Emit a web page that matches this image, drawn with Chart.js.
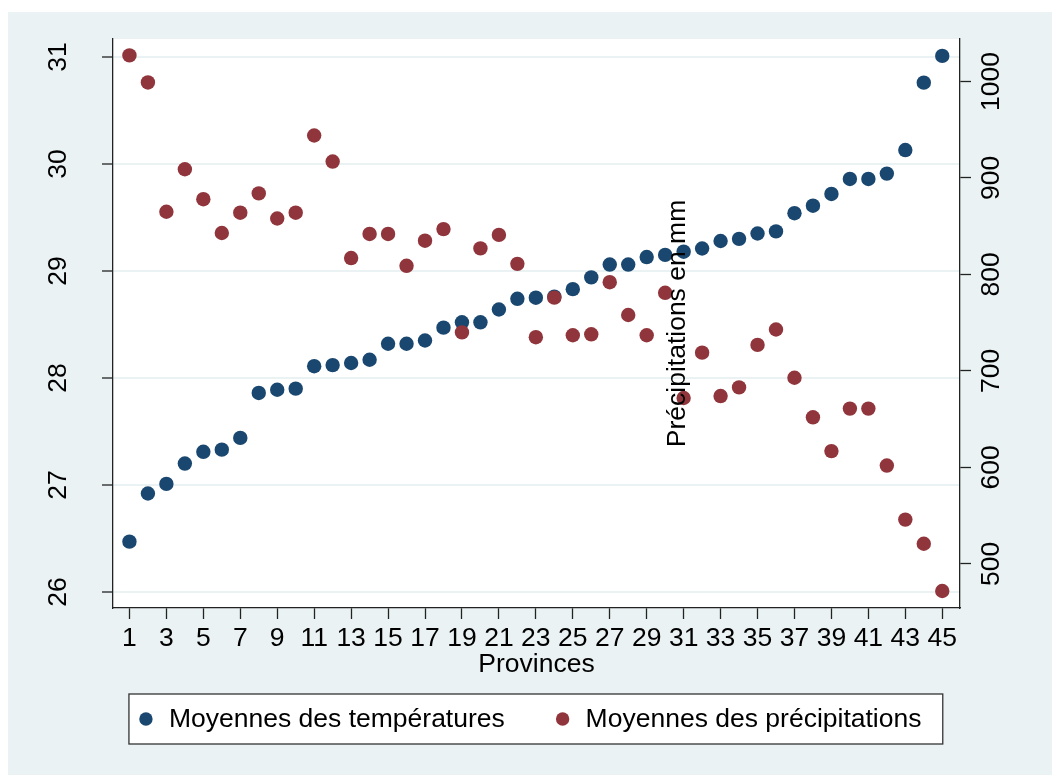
<!DOCTYPE html>
<html>
<head>
<meta charset="utf-8">
<title>Températures et précipitations par province</title>
<script src="https://cdn.jsdelivr.net/npm/chart.js@4/dist/chart.umd.min.js"></script>
<style>
  html, body { margin: 0; padding: 0; background: #fff; }
  canvas { display: block; }
</style>
</head>
<body>
<canvas id="main-canvas" width="1052" height="775"></canvas>
<script>
// values
const provinces = [1, 2, 3, 4, 5, 6, 7, 8, 9, 10, 11, 12, 13, 14, 15, 16, 17, 18, 19, 20, 21, 22, 23,
    24, 25, 26, 27, 28, 29, 30, 31, 32, 33, 34, 35, 36, 37, 38, 39, 40, 41, 42, 43, 44, 45];

const temperatures = [26.47, 26.92, 27.01, 27.20, 27.31, 27.33, 27.44, 27.86, 27.89, 27.90,
    28.11, 28.12, 28.14, 28.17, 28.32, 28.32, 28.35, 28.47, 28.52, 28.52,
    28.64, 28.74, 28.75, 28.76, 28.83, 28.94, 29.06, 29.06, 29.13, 29.15,
    29.18, 29.21, 29.28, 29.30, 29.35, 29.37, 29.54, 29.61, 29.72, 29.86,
    29.86, 29.91, 30.13, 30.76, 31.01];

const precipitations = [1027, 999, 865, 909, 878, 843, 864, 884, 858, 864,
    944, 917, 817, 842, 842, 809, 835, 847, 740, 827,
    841, 811, 735, 776, 737, 738, 792, 758, 737, 781,
    672, 719, 674, 683, 727, 743, 693, 652, 617, 661,
    661, 602, 546, 521, 472];

const xTicks = [1, 3, 5, 7, 9, 11, 13, 15, 17, 19, 21, 23, 25, 27, 29, 31, 33, 35, 37, 39, 41, 43, 45];
const tempTicks = [26, 27, 28, 29, 30, 31];
const precipTicks = [500, 600, 700, 800, 900, 1000];

const legendLabels = ['Moyennes des températures', 'Moyennes des précipitations'];
const xTitle = 'Provinces';
const rightTitle = 'Précipitations en mm';

const NAVY = '#1A476F';
const MAROON = '#90353B';
const BG = '#EAF2F3';
const AXIS = '#222';
const INK = '#000';
const FONT = '"Liberation Sans", Arial, Helvetica, sans-serif';
const FSIZE = 26.5;

function toPoints(values) {
    return provinces.map((p, i) => ({ x: p, y: values[i] }));
}

// rotated tick labels for the two vertical axes
function drawVertLabels(ctx, scale, x) {
    scale.ticks.forEach(t => {
        const y = scale.getPixelForValue(t.value);
        ctx.save();
        ctx.translate(x, y);
        ctx.rotate(-Math.PI / 2);
        ctx.fillText(String(t.value), 0, 0);
        ctx.restore();
    });
}

const backdrop = {
    id: 'backdrop',
    beforeDraw: chart => {
        const { ctx, chartArea: a } = chart;
        ctx.save();
        ctx.fillStyle = '#fff';
        ctx.fillRect(0, 0, chart.width, chart.height);
        ctx.fillStyle = BG;
        ctx.fillRect(8, 12, chart.width - 8, chart.height - 12);
        ctx.fillStyle = '#fff';
        ctx.fillRect(a.left, a.top, a.right - a.left, a.bottom - a.top);
        ctx.restore();
    }
};

const extras = {
    id: 'extras',
    afterDraw: chart => {
        const ctx = chart.ctx;
        const a = chart.chartArea;
        const yL = chart.scales.y, yR = chart.scales.y1, xs = chart.scales.x;

        ctx.save();
        ctx.fillStyle = INK;
        ctx.font = FSIZE + 'px ' + FONT;
        ctx.textAlign = 'center';
        ctx.textBaseline = 'middle';
        drawVertLabels(ctx, yL, yL.right - 54);
        drawVertLabels(ctx, yR, yR.left + 32);

        // right axis title, Stata drops it inside the plot
        ctx.save();
        ctx.translate(a.left + (a.right - a.left) * 0.667, (a.top + a.bottom) / 2);
        ctx.rotate(-Math.PI / 2);
        ctx.fillText(rightTitle, 0, 0);
        ctx.restore();

        // legend box
        const left = xs.getPixelForValue(provinces[0]) - 0.5;
        const right = xs.getPixelForValue(provinces[provinces.length - 1]) + 0.5;
        const top = 694, h = 50;
        ctx.fillStyle = '#fff';
        ctx.fillRect(left, top, right - left, h);
        ctx.strokeStyle = '#333';
        ctx.lineWidth = 1.3;
        ctx.strokeRect(left, top, right - left, h);

        const cy = top + h / 2;
        const cols = [left, left + (right - left) * 0.512];
        const colors = [NAVY, MAROON];
        ctx.textAlign = 'left';
        legendLabels.forEach((lbl, i) => {
            ctx.fillStyle = colors[i];
            ctx.beginPath();
            ctx.arc(cols[i] + 17, cy, 6.7, 0, Math.PI * 2);
            ctx.fill();
            ctx.fillStyle = INK;
            ctx.fillText(lbl, cols[i] + 40, cy + 1);
        });
        ctx.restore();
    }
};

const mainCanvas = document.getElementById('main-canvas');
const ctx = mainCanvas.getContext('2d');

const myChart = new Chart(ctx, {
    type: 'scatter',
    plugins: [backdrop, extras],
    data: {
        datasets: [{
            label: legendLabels[0],
            data: toPoints(temperatures),
            yAxisID: 'y',
            order: 2,
            backgroundColor: NAVY,
            borderWidth: 0,
            radius: 7.2,
            hoverRadius: 7.2
        },
        {
            label: legendLabels[1],
            data: toPoints(precipitations),
            yAxisID: 'y1',
            order: 1,
            backgroundColor: MAROON,
            borderWidth: 0,
            radius: 7.2,
            hoverRadius: 7.2
        }]
    },
    options: {
        responsive: false,
        animation: false,
        events: [],
        layout: { padding: { left: 0, right: 0, top: 39, bottom: 94 } },
        plugins: {
            legend: { display: false },
            tooltip: { enabled: false }
        },
        scales: {
            x: {
                type: 'linear',
                min: 0.11,
                max: 45.96,
                afterBuildTicks: axis => axis.ticks = xTicks.map(v => ({ value: v })),
                afterFit: axis => { axis.height = 73; },
                grid: { display: true, drawOnChartArea: false, tickLength: 11, tickColor: AXIS, tickWidth: 1.3 },
                border: { display: true, color: AXIS, width: 1.3 },
                ticks: {
                    color: INK, font: { family: FONT, size: FSIZE },
                    padding: 4, autoSkip: false, minRotation: 0, maxRotation: 0
                },
                title: {
                    display: true, text: xTitle, color: INK,
                    font: { family: FONT, size: FSIZE }, padding: 0
                }
            },
            y: {
                type: 'linear',
                position: 'left',
                min: 25.85,
                max: 31.168,
                afterBuildTicks: axis => axis.ticks = tempTicks.map(v => ({ value: v })),
                afterFit: axis => { axis.width = 113; },
                grid: { color: BG, lineWidth: 2, tickLength: 11, tickColor: AXIS, tickWidth: 1.3 },
                border: { display: true, color: AXIS, width: 1.3 },
                ticks: { color: 'rgba(0,0,0,0)', font: { family: FONT, size: FSIZE } }
            },
            y1: {
                type: 'linear',
                position: 'right',
                min: 454.4,
                max: 1044,
                afterBuildTicks: axis => axis.ticks = precipTicks.map(v => ({ value: v })),
                afterFit: axis => { axis.width = 92; },
                grid: { drawOnChartArea: false, tickLength: 11, tickColor: AXIS, tickWidth: 1.3 },
                border: { display: true, color: AXIS, width: 1.3 },
                ticks: { color: 'rgba(0,0,0,0)', font: { family: FONT, size: FSIZE } }
            }
        }
    }
});
</script>
</body>
</html>
